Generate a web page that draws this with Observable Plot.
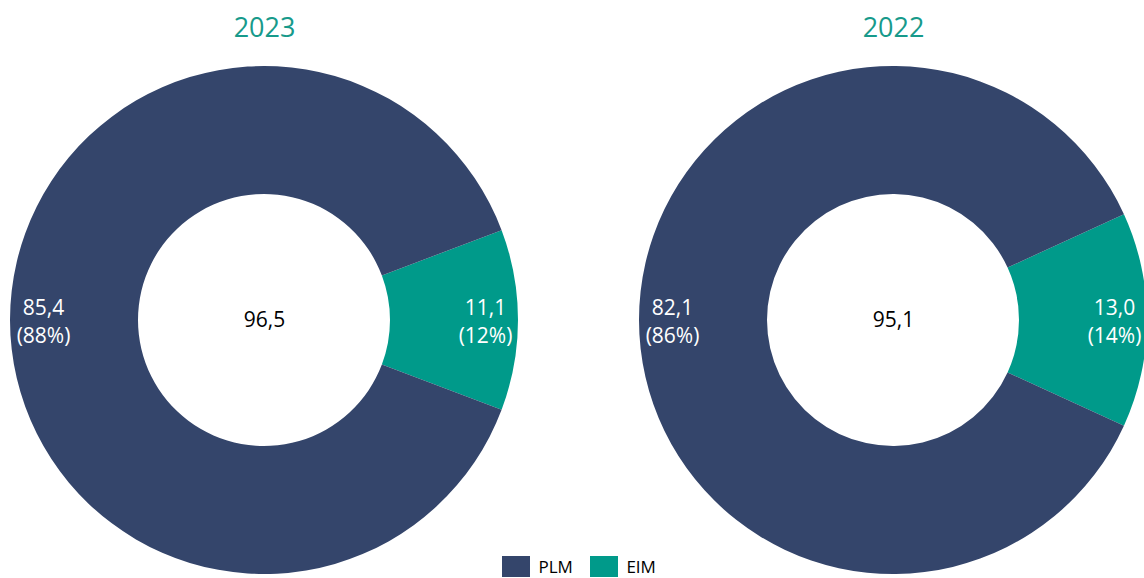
<!DOCTYPE html>
<html>
<head>
<meta charset="utf-8">
<script src="https://cdn.jsdelivr.net/npm/d3@7"></script>
<script src="https://cdn.jsdelivr.net/npm/@observablehq/plot@0.6"></script>
<style>
  html, body { margin: 0; padding: 0; background: #fff; }
  #wrap { position: relative; width: 1144px; height: 578px; overflow: hidden; }
  #legend { position: absolute; left: 502px; top: 550px; }
  #legend > div { min-height: 33px !important; margin: 0 !important; }
</style>
</head>
<body>
<div id="wrap"><div id="chart"></div><div id="legend"></div></div>
<script>
// Data
const years = ["2023", "2022"];
const categories = ["PLM", "EIM"];
const plmValues = [85.4, 82.1];
const eimValues = [11.1, 13.0];
const totals = [96.5, 95.1];
const colors = ["#34456B", "#009A8A"];

// Layout
const W = 1144, H = 578;
const centersX = [264, 893];
const centerY = 320;
const outerR = 254, innerR = 126, labelR = 221;

const fmt = v => d3.format(".1f")(v).replace(".", ",");

// Build slices with d3.pie, EIM centered at 3 o'clock
const slices = [];
years.forEach((yr, i) => {
  const vals = [{key: "EIM", value: eimValues[i]}, {key: "PLM", value: plmValues[i]}];
  const sum = d3.sum(vals, d => d.value);
  const start = Math.PI / 2 - Math.PI * eimValues[i] / sum;
  const arcs = d3.pie().sort(null).value(d => d.value).startAngle(start).endAngle(start + 2 * Math.PI)(vals);
  arcs.forEach(a => {
    const mid = (a.startAngle + a.endAngle) / 2;
    slices.push({
      year: yr, cx: centersX[i], key: a.data.key, value: a.data.value,
      pct: Math.round(100 * a.data.value / sum),
      startAngle: a.startAngle, endAngle: a.endAngle, mid
    });
  });
});
const centers = years.map((yr, i) => ({year: yr, cx: centersX[i], total: totals[i]}));

const donutMark = (index, scales, values, dimensions, context) => {
  const g = d3.create("svg:g");
  const arc = d3.arc().innerRadius(innerR).outerRadius(outerR);
  g.selectAll("path").data(slices).join("path")
    .attr("transform", d => `translate(${scales.x(d.cx)},${scales.y(centerY)})`)
    .attr("d", d => arc(d))
    .attr("fill", d => scales.color(d.key))
    .attr("stroke", "none");
  return g.node();
};

const chart = Plot.plot({
  width: W, height: H,
  margin: 0,
  x: {domain: [0, W], range: [0, W], axis: null},
  y: {domain: [0, H], range: [0, H], axis: null},
  color: {domain: categories, range: colors},
  style: {fontFamily: "'Open Sans', sans-serif"},
  marks: [
    donutMark,
    Plot.text(centers, {x: "cx", y: () => 28, text: "year", fill: "#179A8B", fontSize: 27}),
    Plot.text(centers, {x: "cx", y: () => centerY, text: d => fmt(d.total), fill: "#000", fontSize: 21}),
    Plot.text(slices, {
      x: d => d.cx + labelR * Math.sin(d.mid),
      y: d => centerY - labelR * Math.cos(d.mid),
      text: d => `${fmt(d.value)}\n(${d.pct}%)`,
      fill: "#fff", fontSize: 21, lineHeight: 1.33
    })
  ]
});
document.getElementById("chart").appendChild(chart);

const legend = Plot.legend({
  color: {domain: categories, range: colors},
  legend: "swatches",
  swatchWidth: 28, swatchHeight: 21,
  style: {fontFamily: "'Open Sans', sans-serif", fontSize: "17px", color: "#000"}
});
document.getElementById("legend").appendChild(legend);
</script>
</body>
</html>
